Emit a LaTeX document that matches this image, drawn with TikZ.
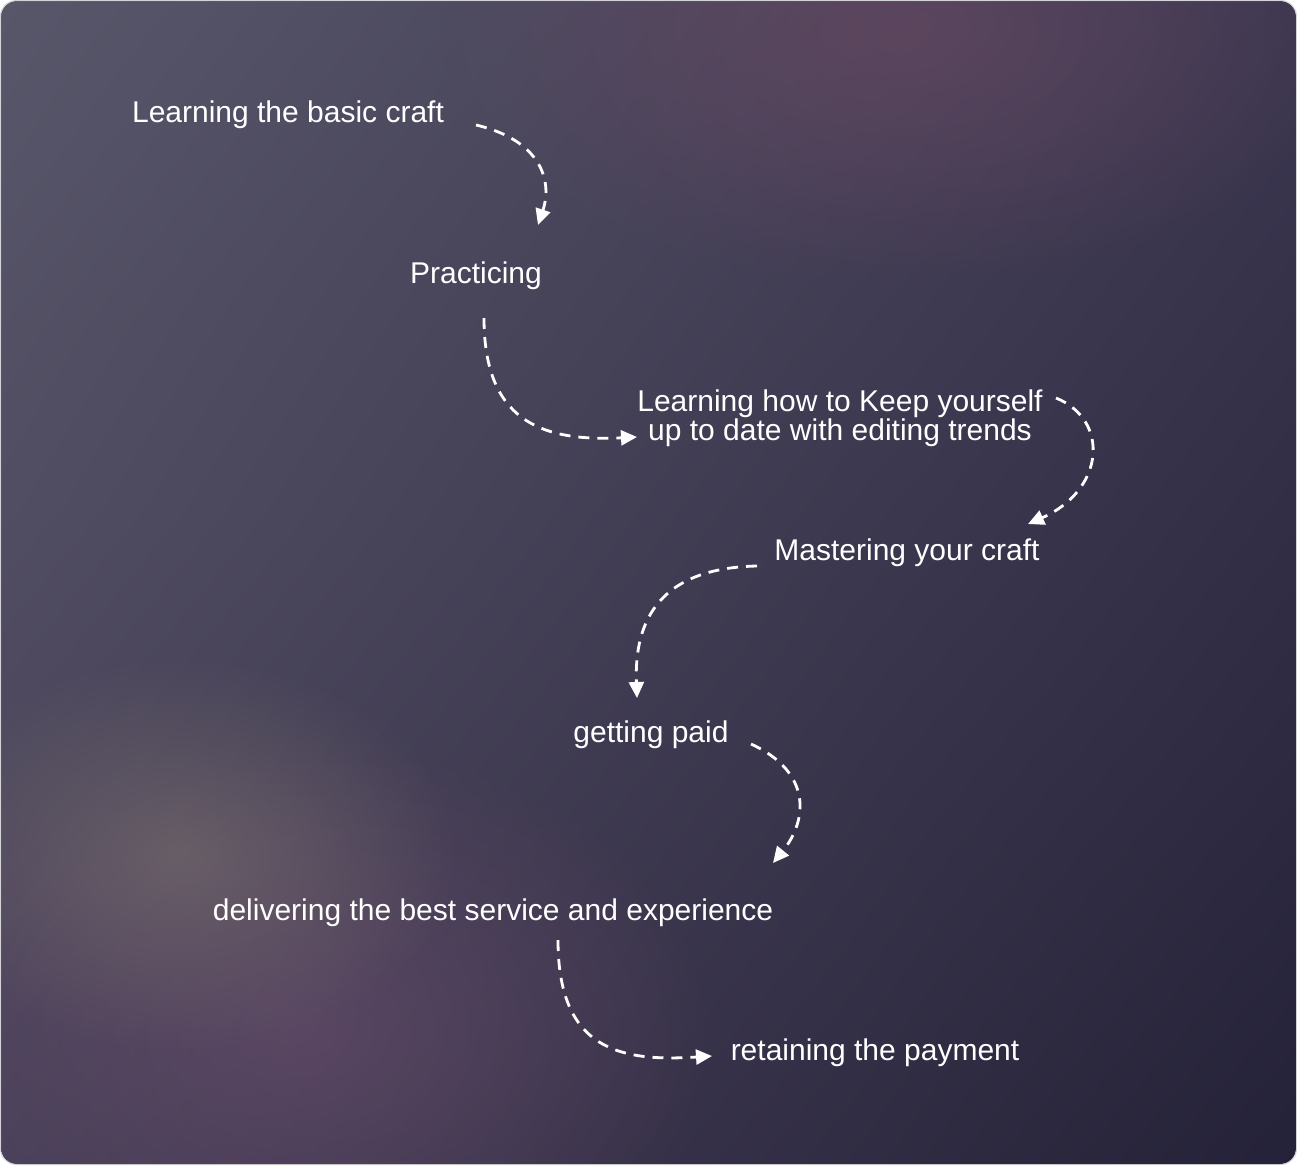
\documentclass[tikz,border=0pt]{standalone}
\usepackage{fontspec}
\setmainfont{Liberation Sans}
\usetikzlibrary{arrows.meta,fadings,shadings}
\tikzfading[name=glowfade, inner color=transparent!0, outer color=transparent!100]
\definecolor{bgUL}{RGB}{88,87,106}
\definecolor{bgUR}{RGB}{60,55,80}
\definecolor{bgLR}{RGB}{36,34,56}
\definecolor{bgLL}{RGB}{72,64,88}
\definecolor{glowpink}{RGB}{112,74,100}
\definecolor{glowgray}{RGB}{125,115,112}
\definecolor{glowpurple}{RGB}{110,80,112}
\tikzset{
  lbl/.style={text=white, font=\fontsize{30}{29}\selectfont, inner sep=0pt, align=center},
  flow/.style={white, line width=2.8pt, dash pattern=on 11pt off 8pt,
    -{Triangle[length=16pt,width=15pt]}}
}
\begin{document}
\begin{tikzpicture}[x=1pt,y=-1pt]
\useasboundingbox (0,0) rectangle (1297,1165);
\begin{scope}
\clip[rounded corners=16pt] (1,1) rectangle (1296,1164);
\shade[upper left=bgUL, upper right=bgUR, lower left=bgLL, lower right=bgLR] (0,0) rectangle (1297,1165);
\fill[glowpink, opacity=0.55, path fading=glowfade] (900,30) ellipse [x radius=460pt, y radius=260pt];
\fill[glowpurple, opacity=0.55, path fading=glowfade] (300,1030) ellipse [x radius=420pt, y radius=300pt];
\fill[glowgray, opacity=0.55, path fading=glowfade] (180,855) ellipse [x radius=280pt, y radius=200pt];
\end{scope}
\draw[white!55!bgUL, opacity=0.6, line width=1pt, rounded corners=16pt] (0.5,0.5) rectangle (1296.5,1164.5);

\node[lbl] (n1) at (288,115) {Learning the basic craft};
\node[lbl] (n2) at (476,276) {Practicing};
\node[lbl] (n3) at (840,418) {Learning how to Keep yourself\\up to date with editing trends};
\node[lbl] (n4) at (907,553) {Mastering your craft};
\node[lbl] (n5) at (651,735) {getting paid};
\node[lbl] (n6) at (493,913) {delivering the best service and experience};
\node[lbl] (n7) at (875,1053) {retaining the payment};

\coordinate (s1) at (476,125);  \coordinate (e1) at (538,225);
\coordinate (s2) at (484,318);  \coordinate (e2) at (637,437);
\coordinate (s3) at (1056,398); \coordinate (e3) at (1028,524);
\coordinate (s4) at (757,566);  \coordinate (e4) at (637,698);
\coordinate (s5) at (751,744);  \coordinate (e5) at (773,863);
\coordinate (s6) at (558,940);  \coordinate (e6) at (712,1056);

\draw[flow] (s1) .. controls (540,140) and (553,180) .. (e1);
\draw[flow] (s2) .. controls (484,420) and (540,442) .. (e2);
\draw[flow] (s3) .. controls (1110,420) and (1105,490) .. (e3);
\draw[flow] (s4) .. controls (660,568) and (634,620) .. (e4);
\draw[flow] (s5) .. controls (812,772) and (808,820) .. (e5);
\draw[flow] (s6) .. controls (558,1050) and (620,1062) .. (e6);
\end{tikzpicture}
\end{document}
